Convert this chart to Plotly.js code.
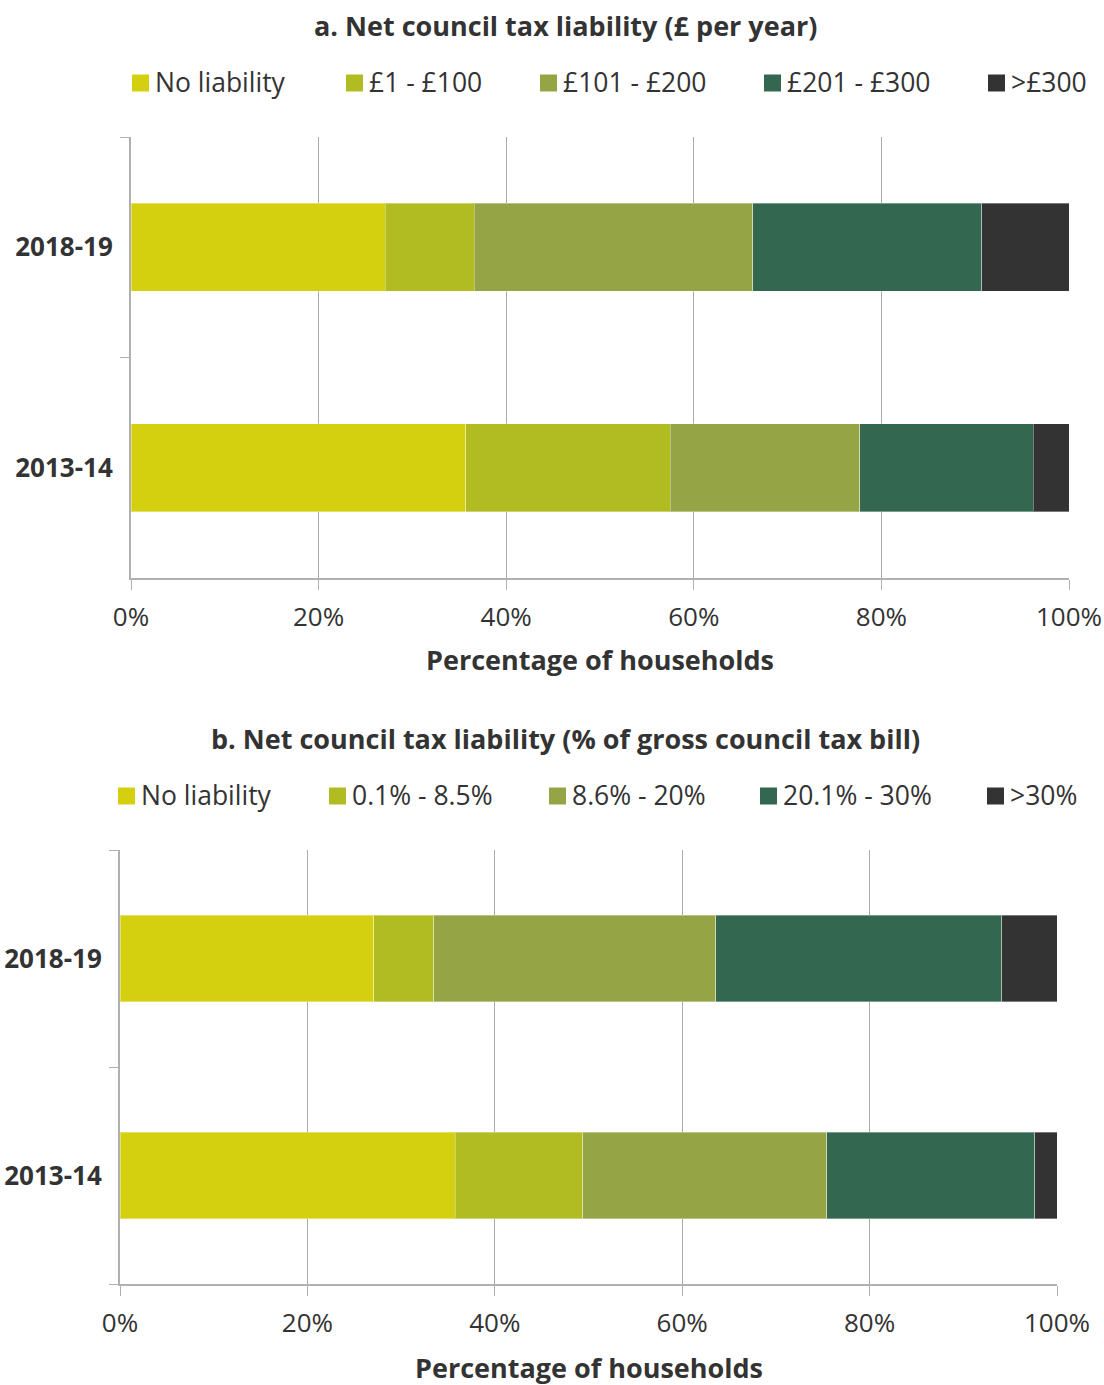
<!DOCTYPE html>
<html>
<head>
<meta charset="utf-8">
<script src="https://cdn.plot.ly/plotly-3.0.1.min.js"></script>
<style>
html,body{margin:0;padding:0;background:#fff;}
#chart{width:1104px;height:1385px;}
</style>
</head>
<body>
<div id="chart"></div>
<script>
// ---- DATA ----
const categories = ['2018-19', '2013-14'];
const xTickVals = [0, 20, 40, 60, 80, 100];
const xTickText = ['0%', '20%', '40%', '60%', '80%', '100%'];

const titleA = 'a. Net council tax liability (£ per year)';
const seriesA = ['No liability', '£1 - £100', '£101 - £200', '£201 - £300', '>£300'];
const a_noLiability = [27.1, 35.7];
const a_1to100 = [9.5, 21.8];
const a_101to200 = [29.7, 20.2];
const a_201to300 = [24.4, 18.5];
const a_over300 = [9.3, 3.8];

const titleB = 'b. Net council tax liability (% of gross council tax bill)';
const seriesB = ['No liability', '0.1% - 8.5%', '8.6% - 20%', '20.1% - 30%', '>30%'];
const b_noLiability = [27.1, 35.8];
const b_01to85 = [6.4, 13.6];
const b_86to20 = [30.1, 26.0];
const b_201to30 = [30.5, 22.2];
const b_over30 = [5.9, 2.4];

const xAxisTitle = 'Percentage of households';

// ---- STYLE ----
const colors = ['#D4D00F', '#B0BC22', '#95A444', '#33674F', '#333333'];
const W = 1104, H = 1385;
const px = x => x / W;
const py = y => 1 - y / H;
const FONT = 'Open Sans, Noto Sans, sans-serif';
const TXT = '#333333';

const valsA = [a_noLiability, a_1to100, a_101to200, a_201to300, a_over300];
const valsB = [b_noLiability, b_01to85, b_86to20, b_201to30, b_over30];

const traces = [];
seriesA.forEach((name, i) => {
  traces.push({
    type: 'bar', orientation: 'h', name: name,
    y: categories, x: valsA[i], xaxis: 'x', yaxis: 'y',
    marker: {color: colors[i], line: {color: 'rgba(255,255,255,0.35)', width: 1}},
    showlegend: false, hoverinfo: 'x+name'
  });
});
seriesB.forEach((name, i) => {
  traces.push({
    type: 'bar', orientation: 'h', name: name,
    y: categories, x: valsB[i], xaxis: 'x2', yaxis: 'y2',
    marker: {color: colors[i], line: {color: 'rgba(255,255,255,0.35)', width: 1}},
    showlegend: false, hoverinfo: 'x+name'
  });
});

function xAxis(domain, anchor) {
  return {
    domain: domain, anchor: anchor, range: [0, 100],
    tickvals: xTickVals, ticktext: xTickText,
    showgrid: true, gridcolor: '#ababab', gridwidth: 1,
    showline: true, linecolor: '#b0b0b0', linewidth: 2,
    ticks: 'outside', ticklen: 10, tickcolor: '#b0b0b0', tickwidth: 1,
    tickfont: {family: FONT, size: 26, color: TXT},
    ticklabelstandoff: 5,
    zeroline: false, fixedrange: true
  };
}
function yAxis(domain, anchor) {
  return {
    domain: domain, anchor: anchor, type: 'category',
    categoryorder: 'array', categoryarray: categories.slice().reverse(),
    range: [-0.5, 1.5],
    tickson: 'boundaries', ticks: 'outside', ticklen: 9,
    tickcolor: '#b0b0b0', tickwidth: 1,
    showgrid: false, showline: true, linecolor: '#b0b0b0', linewidth: 2,
    tickfont: {family: FONT, size: 26, color: TXT, weight: 700},
    ticklabelstandoff: 11,
    zeroline: false, fixedrange: true
  };
}

const annotations = [];
const shapes = [];
function addTitle(text, x, y, size) {
  annotations.push({
    text: text, xref: 'paper', yref: 'paper', x: px(x), y: py(y),
    xanchor: 'center', yanchor: 'middle', showarrow: false,
    font: {family: FONT, size: size, color: TXT, weight: 700}
  });
}
function addLegend(names, swatchLefts, yc) {
  names.forEach((name, i) => {
    const x0 = swatchLefts[i];
    shapes.push({
      type: 'rect', xref: 'paper', yref: 'paper',
      x0: px(x0), x1: px(x0 + 17), y0: py(yc + 8.5), y1: py(yc - 8.5),
      fillcolor: colors[i], line: {width: 0}
    });
    annotations.push({
      text: name, xref: 'paper', yref: 'paper', x: px(x0 + 21), y: py(yc - 1),
      xanchor: 'left', yanchor: 'middle', showarrow: false,
      font: {family: FONT, size: 26.5, color: TXT}
    });
  });
}

addTitle(titleA, 565, 25, 27);
addLegend(seriesA, [132, 346, 540, 764, 988], 83);
addTitle(xAxisTitle, 600, 659, 27);

addTitle(titleB, 565, 738, 27);
addLegend(seriesB, [118, 329, 549, 760, 987], 796);
addTitle(xAxisTitle, 589, 1367, 27);

const layout = {
  width: W, height: H,
  margin: {l: 0, r: 0, t: 0, b: 0, pad: 0},
  paper_bgcolor: '#fff', plot_bgcolor: '#fff',
  barmode: 'stack', bargap: 0.6,
  showlegend: false,
  font: {family: FONT, color: TXT},
  xaxis: xAxis([px(131), px(1069)], 'y'),
  yaxis: yAxis([py(578), py(137)], 'x'),
  xaxis2: xAxis([px(120), px(1057)], 'y2'),
  yaxis2: yAxis([py(1284), py(850)], 'x2'),
  annotations: annotations,
  shapes: shapes
};

Plotly.newPlot('chart', traces, layout, {displayModeBar: false, staticPlot: true});
</script>
</body>
</html>
